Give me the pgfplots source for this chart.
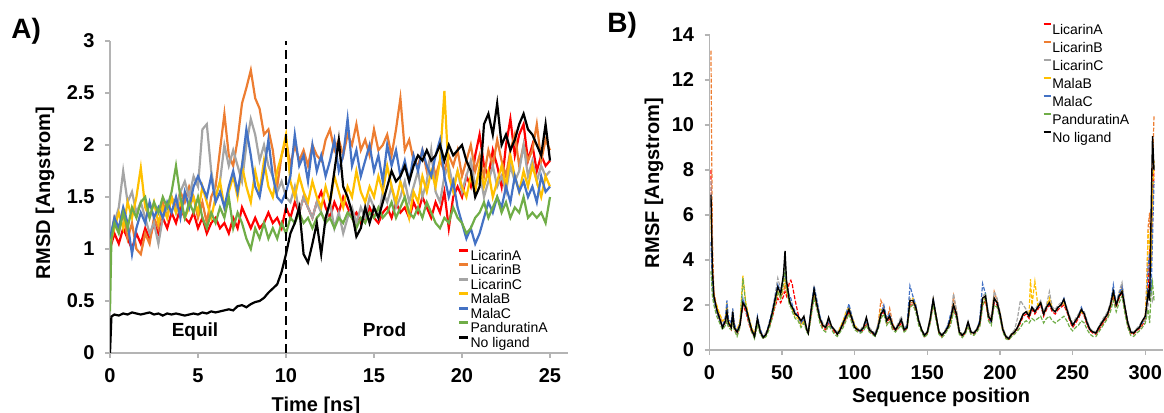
\documentclass[border=0pt]{standalone}
\usepackage{fontspec}
\setmainfont{Liberation Sans}
\usepackage{pgfplots}
\usepackage{pgfplotstable}
\pgfplotsset{compat=1.18}
\definecolor{cA}{HTML}{FF0000}
\definecolor{cB}{HTML}{ED7D31}
\definecolor{cC}{HTML}{A5A5A5}
\definecolor{cMB}{HTML}{FFC000}
\definecolor{cMC}{HTML}{4472C4}
\definecolor{cPA}{HTML}{70AD47}
\definecolor{axgray}{HTML}{B4B4B4}

\pgfplotstableread{
x LA LB LC MB MC PA NL
1 8.0 13.3 7.5 6.0 4.8 3.5 6.9
2 3.5 5.0 3.0 3.0 2.8 2.4 3.6
3 2.4 2.6 2.2 2.3 2.2 2.0 2.4
5 1.7 1.9 1.8 2.0 1.7 1.5 1.8
7 1.3 1.5 1.4 1.6 1.3 1.2 1.4
9 1.0 1.2 1.1 1.3 1.0 0.9 1.0
11 1.2 1.3 1.2 1.4 1.5 1.1 1.3
12 1.4 1.6 1.5 2.1 2.2 1.3 1.7
13 1.1 1.2 1.1 1.3 1.4 1.0 1.2
15 0.9 1.1 1.0 1.0 1.2 0.9 1.0
16 1.5 1.6 1.5 1.6 1.85 1.3 1.7
17 1.0 1.1 1.1 1.0 1.2 0.9 1.0
19 0.7 0.8 0.8 0.9 0.8 0.6 0.8
21 1.1 1.2 1.2 1.3 1.2 1.0 1.1
23 2.0 2.1 2.2 3.3 2.3 3.2 2.1
25 1.7 1.8 1.9 2.1 1.8 2.0 1.9
27 1.2 1.3 1.4 1.5 1.3 1.3 1.4
29 0.8 0.9 0.9 1.0 0.9 0.8 0.9
31 0.6 0.7 0.6 0.7 0.6 0.5 0.6
33 1.2 1.3 1.3 1.4 1.5 1.1 1.4
35 0.8 0.8 0.9 0.8 0.9 0.7 0.8
37 0.55 0.6 0.6 0.55 0.6 0.5 0.55
39 0.7 0.7 0.8 0.7 0.7 0.6 0.7
41 1.0 1.1 1.1 1.1 1.2 0.9 1.1
43 1.4 1.5 1.6 1.6 1.7 1.4 1.6
45 1.9 2.0 2.4 2.1 2.3 2.0 2.2
47 2.3 2.5 3.2 2.6 2.9 2.6 2.8
49 2.1 2.3 2.7 2.4 2.6 2.3 2.5
51 2.4 2.6 3.3 2.8 3.2 3.0 3.4
52 2.6 2.9 3.8 3.2 3.4 3.6 4.4
53 2.4 2.6 3.0 2.7 2.9 2.8 3.1
55 3.0 2.2 2.3 2.1 2.4 2.0 2.2
56 3.1 2.0 2.1 2.0 2.3 1.9 2.0
57 2.9 1.9 1.9 1.8 2.0 1.7 1.9
59 2.2 1.6 1.6 1.5 1.7 1.4 1.6
61 1.6 1.5 1.5 1.4 1.5 1.3 1.5
63 1.2 1.2 1.3 1.1 1.2 1.0 1.3
65 1.3 1.4 1.4 1.3 1.4 1.2 1.5
67 0.9 0.9 1.0 0.9 0.9 0.8 0.9
68 0.75 0.8 0.8 0.75 0.8 0.7 0.75
70 1.6 1.7 1.8 1.8 1.9 1.5 1.8
72 2.4 2.6 2.8 2.6 2.85 2.3 2.7
74 1.9 2.0 2.1 2.0 2.2 1.8 2.0
76 1.3 1.4 1.5 1.4 1.5 1.2 1.4
78 1.0 1.1 1.2 1.1 1.1 0.9 1.1
80 0.9 1.0 1.1 1.0 1.0 0.8 1.0
82 1.2 1.3 1.4 1.4 1.3 1.1 1.45
84 1.0 1.0 1.1 1.0 1.0 0.9 1.05
86 0.8 0.9 0.9 0.9 0.9 0.7 0.9
88 0.7 0.7 0.8 0.7 0.7 0.6 0.7
90 0.9 0.9 1.0 1.0 0.9 0.8 0.9
92 1.1 1.2 1.3 1.3 1.2 1.0 1.2
94 1.4 1.5 1.6 1.7 1.6 1.3 1.5
96 1.7 1.8 1.9 1.9 2.05 1.6 1.8
98 1.3 1.4 1.5 1.5 1.5 1.2 1.4
100 1.0 1.0 1.1 1.1 1.0 0.9 1.0
102 0.85 0.9 0.95 0.9 0.9 0.8 0.9
104 0.8 0.85 0.9 0.85 0.8 0.75 0.85
106 0.9 1.0 1.1 1.0 1.0 0.85 1.0
108 1.2 1.3 1.4 1.3 1.3 1.1 1.45
110 0.85 0.9 1.0 0.9 0.9 0.8 0.9
112 0.75 0.8 0.85 0.8 0.8 0.7 0.8
114 0.65 0.7 0.75 0.7 0.7 0.6 0.65
116 1.0 1.1 1.1 1.1 1.1 0.9 1.0
118 1.5 2.2 1.6 1.8 1.6 1.4 1.6
120 1.7 1.9 1.8 1.8 2.0 1.6 1.8
122 1.2 1.3 1.3 1.3 1.4 1.1 1.3
124 1.4 1.85 1.5 1.5 1.6 1.3 1.5
126 1.0 1.2 1.1 1.1 1.1 0.9 1.1
128 0.85 0.9 0.95 0.9 0.9 0.8 0.9
130 1.0 1.1 1.2 1.1 1.1 0.95 1.1
132 1.2 1.3 1.5 1.3 1.35 1.1 1.35
134 0.85 0.9 1.0 0.9 0.9 0.8 0.9
136 0.95 1.0 1.1 1.0 1.1 0.9 1.0
138 2.0 2.1 2.3 2.2 2.85 1.9 2.2
140 2.0 2.1 2.2 2.3 2.4 2.0 2.2
142 1.8 1.9 1.9 2.0 2.0 1.7 1.9
144 1.2 1.3 1.4 1.3 1.3 1.1 1.3
146 0.85 0.9 0.95 0.9 0.9 0.8 0.9
148 0.6 0.65 0.7 0.65 0.65 0.55 0.65
150 0.75 0.8 0.85 0.8 0.8 0.7 0.8
152 1.3 1.4 1.5 1.4 1.4 1.2 1.4
154 2.1 2.2 2.2 2.2 2.3 2.0 2.25
156 1.4 1.5 1.6 1.5 1.5 1.3 1.5
158 0.75 0.8 0.85 0.8 0.8 0.7 0.8
160 0.6 0.65 0.7 0.65 0.65 0.55 0.65
162 0.75 0.8 0.85 0.8 0.8 0.7 0.8
164 0.95 1.0 1.1 1.0 1.1 0.9 1.0
166 1.2 1.3 1.4 1.3 1.6 1.1 1.4
168 1.8 2.4 2.5 2.0 1.9 1.7 2.0
170 1.5 1.7 1.8 1.6 1.6 1.4 1.6
172 0.75 0.8 0.9 0.8 0.8 0.7 0.8
174 0.6 0.65 0.7 0.65 0.65 0.55 0.65
176 0.75 0.8 0.85 0.8 0.8 0.7 0.8
178 1.1 1.2 1.25 1.2 1.2 1.0 1.25
180 0.75 0.8 0.85 0.8 0.8 0.7 0.8
182 0.7 0.75 0.8 0.75 0.75 0.65 0.75
184 0.85 0.9 0.95 0.9 0.9 0.8 0.9
186 1.1 1.2 1.3 1.2 1.3 1.0 1.2
188 2.0 2.3 2.4 2.2 2.95 1.9 2.3
190 2.2 2.4 2.5 2.3 2.5 2.4 2.4
192 1.4 1.6 1.7 1.5 1.5 1.3 1.5
194 1.2 1.3 1.4 1.3 1.2 1.1 1.3
196 2.1 2.6 2.6 2.3 2.3 2.0 2.3
198 2.0 2.2 2.3 2.1 2.1 1.9 2.1
200 1.5 1.6 1.7 1.6 1.6 1.4 1.6
202 0.85 0.9 1.0 0.9 0.9 0.8 0.9
204 0.55 0.6 0.65 0.6 0.6 0.5 0.6
206 0.45 0.5 0.55 0.5 0.5 0.45 0.5
208 0.65 0.7 0.75 0.7 0.7 0.6 0.7
210 0.75 0.8 0.9 0.8 0.8 0.7 0.8
212 0.95 1.0 1.4 1.0 1.0 0.85 1.0
214 1.2 1.3 2.2 1.3 1.3 1.0 1.3
216 1.5 1.6 2.0 1.6 1.6 1.2 1.6
218 1.6 1.7 1.8 1.7 1.7 1.3 1.7
220 1.4 1.5 1.6 1.6 1.5 1.2 1.5
221 1.6 1.7 1.8 3.15 1.7 1.3 1.7
222 1.8 1.9 1.9 2.0 1.9 1.4 1.9
224 1.6 1.7 1.8 3.05 1.7 1.3 1.7
226 1.8 1.9 2.0 2.0 1.9 1.4 1.9
228 2.0 2.1 2.2 2.1 2.1 1.5 2.1
230 1.5 1.6 1.7 1.6 1.6 1.2 1.6
232 1.8 1.9 2.0 1.9 1.9 1.4 1.9
234 2.0 2.2 2.6 2.3 2.1 1.5 2.1
236 1.7 1.8 1.9 1.8 1.8 1.3 1.8
238 1.6 1.7 1.8 1.7 1.7 1.2 1.7
240 1.8 1.9 2.0 1.9 1.9 1.3 1.9
242 1.9 2.0 2.1 2.0 2.0 1.4 2.0
244 2.0 2.1 2.2 2.1 2.3 1.5 2.25
246 1.7 1.8 1.9 1.8 1.8 1.3 1.8
248 1.3 1.4 1.5 1.4 1.4 1.0 1.4
250 1.0 1.1 1.2 1.1 1.1 0.85 1.1
252 1.2 1.3 1.4 1.3 1.3 1.0 1.3
254 1.4 1.5 1.6 1.5 1.5 1.1 1.5
256 1.7 1.8 1.8 1.7 1.9 1.3 1.8
258 1.5 1.6 1.7 1.6 1.6 1.2 1.6
260 1.1 1.2 1.3 1.2 1.2 0.9 1.2
262 0.85 0.9 0.95 0.9 0.9 0.7 0.9
264 0.75 0.8 0.85 0.8 0.8 0.6 0.8
266 0.7 0.75 0.8 0.75 0.75 0.6 0.75
268 0.9 1.0 1.05 1.0 1.0 0.8 1.0
270 1.1 1.2 1.3 1.2 1.2 1.0 1.2
272 1.3 1.4 1.5 1.4 1.4 1.2 1.4
274 1.5 1.6 1.7 1.6 1.6 1.4 1.6
276 1.9 2.0 2.1 2.0 2.0 1.7 2.0
278 2.4 2.6 2.7 2.5 2.9 2.2 2.6
280 1.9 2.0 2.1 2.0 2.0 1.7 2.0
282 2.3 2.4 2.6 2.4 2.5 2.1 2.4
284 2.6 2.8 3.0 2.7 2.8 2.4 2.6
286 1.8 1.9 2.0 1.9 1.9 1.6 1.9
288 1.1 1.2 1.3 1.2 1.2 1.0 1.2
290 0.75 0.8 0.85 0.8 0.8 0.65 0.8
292 0.7 0.75 0.8 0.75 0.75 0.6 0.75
294 0.85 0.9 0.95 0.9 0.9 0.75 0.9
296 0.95 1.0 1.1 1.0 1.0 0.85 1.0
298 1.1 1.2 1.3 1.2 1.2 1.0 1.3
300 1.4 1.5 1.3 1.5 1.5 1.2 1.5
301 2.0 3.0 1.6 2.5 2.0 1.5 2.0
302 2.5 5.5 2.0 5.3 3.8 1.8 2.6
303 4.5 6.1 2.5 4.6 4.3 1.2 2.2
304 3.5 4.0 3.0 3.5 2.5 2.5 6.0
305 6.0 8.0 2.2 6.5 5.0 3.0 9.5
306 8.0 10.4 2.4 8.4 7.5 2.2 8.0
}\rmsf

\pgfplotsset{
  common/.style={
    scale only axis,
    axis x line*=bottom, axis y line*=left,
    axis line style={draw=axgray, line width=0.7pt, -},
    tick align=outside, major tick length=2.5pt,
    every tick/.style={axgray, line width=0.7pt},
    ticklabel style={font=\bfseries\fontsize{10}{12}\selectfont},
    /pgf/number format/assume math mode=true,
    label style={font=\bfseries\fontsize{10}{12}\selectfont},
    xticklabel style={anchor=north, inner sep=0pt, yshift=-5pt},
    yticklabel style={anchor=east, inner sep=0pt, xshift=-5pt},
    legend cell align=left,
  }
}

\begin{document}
\begin{tikzpicture}
\useasboundingbox (0,0) rectangle (582pt,206.5pt);

\node[anchor=base west, inner sep=0pt, font=\bfseries\fontsize{14}{16}\selectfont] at (5.5pt,187pt) {A)};
\node[anchor=base west, inner sep=0pt, font=\bfseries\fontsize{14}{16}\selectfont] at (303.5pt,190pt) {B)};

\begin{axis}[common,
  at={(55pt,30pt)}, anchor=south west,
  width=228.8pt, height=156pt,
  xmin=0, xmax=26, ymin=0, ymax=3,
  xtick={0,5,10,15,20,25},
  ytick={0,0.5,1,1.5,2,2.5,3},
  xlabel={Time [ns]},
  xlabel style={at={(axis description cs:0.45,-0.186)}, anchor=base, inner sep=0pt},
  ylabel={RMSD [Angstrom]},
  ylabel style={at={(axis description cs:-0.131,0.513)}, anchor=base, inner sep=0pt},
  legend style={at={(0.7605,0.337)}, anchor=north west, draw=none, fill=none,
    font=\fontsize{7}{8}\selectfont, inner sep=0pt, outer sep=0pt, row sep=0pt,
    nodes={inner sep=0pt, text height=6.1pt, text depth=1.15pt},
    /tikz/every odd column/.style={column sep=0.4pt}},
  legend image code/.code={\draw[#1, line width=1.4pt] (0pt,2.5pt) -- (4.5pt,2.5pt);},
]
\addplot[cA, line width=1.1pt] coordinates {(0,1.0)(0.25,1.15)(0.5,1.05)(0.75,1.2)(1,1.1)(1.25,1.0)(1.5,1.15)(1.75,1.05)(2,1.2)(2.25,1.1)(2.5,1.25)(2.75,1.15)(3,1.3)(3.25,1.2)(3.5,1.35)(3.75,1.25)(4,1.4)(4.25,1.3)(4.5,1.25)(4.75,1.35)(5,1.2)(5.25,1.3)(5.5,1.15)(5.75,1.25)(6,1.3)(6.25,1.2)(6.5,1.25)(6.75,1.15)(7,1.3)(7.25,1.2)(7.5,1.4)(7.75,1.3)(8,1.2)(8.25,1.3)(8.5,1.2)(8.75,1.25)(9,1.35)(9.25,1.25)(9.5,1.3)(9.75,1.2)(10,1.4)(10.25,1.3)(10.5,1.45)(10.75,1.35)(11,1.5)(11.25,1.4)(11.5,1.3)(11.75,1.45)(12,1.55)(12.25,1.4)(12.5,1.3)(12.75,1.45)(13,1.35)(13.25,1.5)(13.5,1.4)(13.75,1.3)(14,1.35)(14.25,1.25)(14.5,1.3)(14.75,1.4)(15,1.3)(15.25,1.25)(15.5,1.35)(15.75,1.4)(16,1.3)(16.25,1.45)(16.5,1.35)(16.75,1.4)(17,1.3)(17.25,1.45)(17.5,1.35)(17.75,1.5)(18,1.4)(18.25,1.3)(18.5,1.45)(18.75,1.35)(19,1.55)(19.25,1.2)(19.5,1.5)(19.75,1.6)(20,1.5)(20.25,1.7)(20.5,1.6)(20.75,1.9)(21,2.1)(21.25,1.8)(21.5,1.7)(21.75,1.95)(22,1.8)(22.25,1.6)(22.5,2.0)(22.75,2.25)(23,1.9)(23.25,2.1)(23.5,2.2)(23.75,1.85)(24,2.0)(24.25,1.75)(24.5,1.9)(24.75,1.8)(25,1.85)};
\addplot[cB, line width=1.1pt] coordinates {(0,1.05)(0.25,1.3)(0.5,1.2)(0.75,1.35)(1,1.1)(1.25,1.25)(1.5,1.0)(1.75,0.95)(2,1.15)(2.25,1.05)(2.5,1.3)(2.75,1.2)(3,1.45)(3.25,1.3)(3.5,1.5)(3.75,1.4)(4,1.55)(4.25,1.45)(4.5,1.6)(4.75,1.5)(5,1.3)(5.25,1.45)(5.5,1.25)(5.75,1.5)(6,1.6)(6.25,1.95)(6.5,2.3)(6.75,1.9)(7,1.8)(7.25,2.05)(7.5,2.4)(7.75,2.55)(8,2.72)(8.25,2.45)(8.5,2.35)(8.75,2.1)(9,2.15)(9.25,1.95)(9.5,1.6)(9.75,1.9)(10,2.05)(10.25,1.8)(10.5,2.0)(10.75,1.85)(11,1.95)(11.25,1.8)(11.5,2.0)(11.75,1.9)(12,1.85)(12.25,2.05)(12.5,2.15)(12.75,1.95)(13,2.05)(13.25,1.9)(13.5,2.1)(13.75,2.0)(14,2.2)(14.25,1.95)(14.5,2.05)(14.75,1.9)(15,2.15)(15.25,1.95)(15.5,2.0)(15.75,2.1)(16,1.9)(16.25,2.15)(16.5,2.45)(16.75,1.95)(17,2.05)(17.25,1.85)(17.5,1.8)(17.75,1.95)(18,1.75)(18.25,1.9)(18.5,1.7)(18.75,1.85)(19,1.75)(19.25,1.9)(19.5,1.8)(19.75,1.95)(20,1.7)(20.25,1.85)(20.5,2.0)(20.75,1.75)(21,1.9)(21.25,1.7)(21.5,1.95)(21.75,1.8)(22,2.05)(22.25,1.85)(22.5,1.7)(22.75,1.95)(23,2.1)(23.25,1.8)(23.5,2.0)(23.75,1.85)(24,1.95)(24.25,2.2)(24.5,1.85)(24.75,2.05)(25,1.95)};
\addplot[cC, line width=1.1pt] coordinates {(0,1.0)(0.25,1.25)(0.5,1.4)(0.75,1.75)(1,1.45)(1.25,1.55)(1.5,1.35)(1.75,1.45)(2,1.3)(2.25,1.15)(2.5,1.25)(2.75,1.05)(3,1.3)(3.25,1.4)(3.5,1.5)(3.75,1.35)(4,1.55)(4.25,1.65)(4.5,1.5)(4.75,1.7)(5,1.6)(5.25,2.15)(5.5,2.2)(5.75,1.75)(6,1.5)(6.25,1.65)(6.5,2.0)(6.75,1.8)(7,1.95)(7.25,1.8)(7.5,1.65)(7.75,2.0)(8,2.25)(8.25,2.1)(8.5,1.85)(8.75,2.0)(9,1.8)(9.25,1.7)(9.5,1.55)(9.75,1.65)(10,1.5)(10.25,1.45)(10.5,1.6)(10.75,1.35)(11,1.5)(11.25,1.4)(11.5,1.3)(11.75,1.45)(12,1.35)(12.25,1.25)(12.5,1.45)(12.75,1.2)(13,1.35)(13.25,1.15)(13.5,1.3)(13.75,1.4)(14,1.25)(14.25,1.4)(14.5,1.3)(14.75,1.5)(15,1.4)(15.25,1.3)(15.5,1.55)(15.75,1.45)(16,1.6)(16.25,1.4)(16.5,1.5)(16.75,1.65)(17,1.45)(17.25,1.6)(17.5,1.75)(17.75,1.5)(18,1.65)(18.25,1.95)(18.5,1.55)(18.75,1.45)(19,1.7)(19.25,1.8)(19.5,1.6)(19.75,1.75)(20,1.55)(20.25,1.7)(20.5,1.85)(20.75,1.6)(21,1.75)(21.25,1.5)(21.5,1.65)(21.75,1.8)(22,1.6)(22.25,1.7)(22.5,1.55)(22.75,1.8)(23,1.65)(23.25,1.75)(23.5,2.0)(23.75,1.7)(24,1.85)(24.25,1.65)(24.5,1.8)(24.75,1.7)(25,1.75)};
\addplot[cMB, line width=1.1pt] coordinates {(0,1.05)(0.25,1.2)(0.5,1.35)(0.75,1.2)(1,1.45)(1.25,1.3)(1.5,1.5)(1.75,1.78)(2,1.4)(2.25,1.3)(2.5,1.45)(2.75,1.25)(3,1.4)(3.25,1.3)(3.5,1.5)(3.75,1.35)(4,1.45)(4.25,1.3)(4.5,1.4)(4.75,1.5)(5,1.35)(5.25,1.6)(5.5,1.45)(5.75,1.3)(6,1.5)(6.25,1.65)(6.5,1.4)(6.75,1.55)(7,1.7)(7.25,1.5)(7.5,1.8)(7.75,1.6)(8,1.45)(8.25,1.75)(8.5,1.55)(8.75,1.85)(9,1.6)(9.25,1.5)(9.5,1.75)(9.75,1.9)(10,2.1)(10.25,1.65)(10.5,1.5)(10.75,1.7)(11,1.55)(11.25,1.45)(11.5,1.65)(11.75,1.5)(12,1.4)(12.25,1.6)(12.5,1.45)(12.75,1.7)(13,1.55)(13.25,1.4)(13.5,1.6)(13.75,1.5)(14,1.75)(14.25,1.55)(14.5,1.45)(14.75,1.6)(15,1.5)(15.25,1.7)(15.5,1.55)(15.75,1.8)(16,1.6)(16.25,1.45)(16.5,1.65)(16.75,1.5)(17,1.3)(17.25,1.55)(17.5,1.45)(17.75,1.7)(18,1.55)(18.25,1.75)(18.5,1.6)(18.75,1.85)(19,2.52)(19.25,1.7)(19.5,1.55)(19.75,1.75)(20,1.6)(20.25,1.5)(20.5,1.7)(20.75,1.55)(21,1.8)(21.25,1.6)(21.5,1.75)(21.75,1.5)(22,1.65)(22.25,1.8)(22.5,1.6)(22.75,1.9)(23,1.7)(23.25,1.55)(23.5,1.75)(23.75,1.6)(24,1.8)(24.25,1.65)(24.5,1.5)(24.75,1.7)(25,1.6)};
\addplot[cMC, line width=1.1pt] coordinates {(0,1.1)(0.25,1.3)(0.5,1.2)(0.75,1.4)(1,1.25)(1.25,0.95)(1.5,1.2)(1.75,1.35)(2,1.25)(2.25,1.45)(2.5,1.3)(2.75,1.4)(3,1.3)(3.25,1.45)(3.5,1.35)(3.75,1.5)(4,1.3)(4.25,1.55)(4.5,1.4)(4.75,1.6)(5,1.7)(5.25,1.6)(5.5,1.5)(5.75,1.7)(6,1.45)(6.25,1.55)(6.5,1.4)(6.75,1.6)(7,1.75)(7.25,1.55)(7.5,1.8)(7.75,2.15)(8,1.9)(8.25,1.6)(8.5,1.5)(8.75,1.75)(9,2.05)(9.25,1.7)(9.5,1.5)(9.75,1.45)(10,1.55)(10.25,1.7)(10.5,2.1)(10.75,1.8)(11,1.9)(11.25,1.65)(11.5,2.0)(11.75,1.75)(12,1.9)(12.25,1.7)(12.5,1.85)(12.75,2.05)(13,1.75)(13.25,1.9)(13.5,2.25)(13.75,1.8)(14,1.95)(14.25,1.7)(14.5,1.85)(14.75,2.0)(15,1.75)(15.25,1.9)(15.5,1.65)(15.75,2.0)(16,1.8)(16.25,1.95)(16.5,1.7)(16.75,1.85)(17,1.65)(17.25,1.9)(17.5,1.75)(17.75,1.95)(18,1.8)(18.25,1.7)(18.5,1.9)(18.75,2.05)(19,1.7)(19.25,1.5)(19.5,1.65)(19.75,1.4)(20,1.25)(20.25,1.1)(20.5,1.2)(20.75,1.05)(21,1.15)(21.25,1.3)(21.5,1.45)(21.75,1.35)(22,1.5)(22.25,1.4)(22.5,1.6)(22.75,1.45)(23,1.7)(23.25,1.55)(23.5,1.65)(23.75,1.5)(24,1.6)(24.25,1.45)(24.5,1.7)(24.75,1.55)(25,1.6)};
\addplot[cPA, line width=1.1pt] coordinates {(0,0.4)(0.08,1.1)(0.25,1.25)(0.5,1.15)(0.75,1.35)(1,1.2)(1.25,1.4)(1.5,1.3)(1.75,1.45)(2,1.5)(2.25,1.3)(2.5,1.45)(2.75,1.35)(3,1.5)(3.25,1.4)(3.5,1.55)(3.75,1.8)(4,1.5)(4.25,1.3)(4.5,1.45)(4.75,1.35)(5,1.5)(5.25,1.3)(5.5,1.2)(5.75,1.35)(6,1.25)(6.25,1.4)(6.5,1.3)(6.75,1.5)(7,1.2)(7.25,1.35)(7.5,1.25)(7.75,1.1)(8,1.0)(8.25,1.2)(8.5,1.1)(8.75,1.25)(9,1.1)(9.25,1.2)(9.5,1.1)(9.75,1.25)(10,1.15)(10.25,1.3)(10.5,1.25)(10.75,1.35)(11,1.25)(11.25,1.3)(11.5,1.2)(11.75,1.3)(12,1.35)(12.25,1.25)(12.5,1.3)(12.75,1.2)(13,1.3)(13.25,1.25)(13.5,1.35)(13.75,1.3)(14,1.2)(14.25,1.3)(14.5,1.25)(14.75,1.35)(15,1.3)(15.25,1.4)(15.5,1.3)(15.75,1.35)(16,1.45)(16.25,1.3)(16.5,1.4)(16.75,1.5)(17,1.35)(17.25,1.3)(17.5,1.4)(17.75,1.3)(18,1.45)(18.25,1.35)(18.5,1.25)(18.75,1.2)(19,1.3)(19.25,1.25)(19.5,1.4)(19.75,1.3)(20,1.25)(20.25,1.15)(20.5,1.2)(20.75,1.3)(21,1.35)(21.25,1.45)(21.5,1.3)(21.75,1.4)(22,1.5)(22.25,1.35)(22.5,1.45)(22.75,1.3)(23,1.4)(23.25,1.35)(23.5,1.5)(23.75,1.3)(24,1.35)(24.25,1.3)(24.5,1.35)(24.75,1.25)(25,1.5)};
\addplot[black, line width=1.1pt] coordinates {(0,0)(0.08,0.35)(0.25,0.37)(0.5,0.36)(0.75,0.38)(1,0.37)(1.25,0.39)(1.5,0.38)(1.75,0.37)(2,0.38)(2.25,0.39)(2.5,0.37)(2.75,0.38)(3,0.36)(3.25,0.38)(3.5,0.37)(3.75,0.38)(4,0.37)(4.25,0.36)(4.5,0.37)(4.75,0.38)(5,0.37)(5.25,0.39)(5.5,0.38)(5.75,0.4)(6,0.39)(6.25,0.4)(6.5,0.41)(6.75,0.42)(7,0.41)(7.25,0.45)(7.5,0.46)(7.75,0.44)(8,0.47)(8.25,0.49)(8.5,0.5)(8.75,0.53)(9,0.58)(9.25,0.62)(9.5,0.66)(9.75,0.78)(10,0.95)(10.25,1.15)(10.5,1.25)(10.75,1.4)(11,0.95)(11.25,0.87)(11.5,1.05)(11.75,1.25)(12,0.95)(12.25,1.3)(12.5,1.45)(12.75,1.75)(13,2.05)(13.25,1.6)(13.5,1.5)(13.75,1.35)(14,1.12)(14.25,1.2)(14.5,1.4)(14.75,1.25)(15,1.4)(15.25,1.3)(15.5,1.45)(15.75,1.6)(16,1.75)(16.25,1.65)(16.5,1.7)(16.75,1.8)(17,1.65)(17.25,1.8)(17.5,1.9)(17.75,1.85)(18,1.95)(18.25,1.85)(18.5,1.9)(18.75,2.0)(19,1.85)(19.25,2.0)(19.5,1.9)(19.75,1.95)(20,2.0)(20.25,1.85)(20.5,1.75)(20.75,1.5)(21,1.6)(21.25,2.2)(21.5,2.3)(21.75,2.1)(22,2.4)(22.25,2.0)(22.5,2.1)(22.75,1.95)(23,2.05)(23.25,2.2)(23.5,2.3)(23.75,2.15)(24,2.1)(24.25,2.0)(24.5,1.9)(24.75,2.2)(25,1.85)};
\addplot[forget plot, black, line width=1pt, dash pattern=on 4.5pt off 2.5pt] coordinates {(10,0) (10,3)};
\legend{LicarinA,LicarinB,LicarinC,MalaB,MalaC,PanduratinA,No ligand}
\node[anchor=base, inner sep=0pt, font=\bfseries\fontsize{9.5}{11}\selectfont] at (axis cs:4.83,0.154) {Equil};
\node[anchor=base, inner sep=0pt, font=\bfseries\fontsize{9.5}{11}\selectfont] at (axis cs:15.6,0.154) {Prod};
\end{axis}

\begin{axis}[common,
  at={(354.75pt,31.5pt)}, anchor=south west,
  width=226.6pt, height=157.5pt,
  xmin=0, xmax=312, ymin=0, ymax=14,
  xtick={0,50,100,150,200,250,300},
  ytick={0,2,4,6,8,10,12,14},
  xlabel={Sequence position},
  xlabel style={at={(axis description cs:0.511,-0.168)}, anchor=base, inner sep=0pt},
  ylabel={RMSF [Angstrom]},
  ylabel style={at={(axis description cs:-0.111,0.53)}, anchor=base, inner sep=0pt},
  legend style={at={(0.736,1.0476)}, anchor=north west, draw=none, fill=none,
    font=\fontsize{7}{8}\selectfont, inner sep=0pt, outer sep=0pt, row sep=0pt,
    nodes={inner sep=0pt, text height=7pt, text depth=2pt},
    /tikz/every odd column/.style={column sep=0.5pt}},
  legend image code/.code={\draw[#1, solid, line width=0.6pt] (0pt,2.5pt) -- (3.5pt,2.5pt);},
]
\addplot[cA, line width=0.6pt, dash pattern=on 2pt off 0.8pt] table[x=x, y=LA] {\rmsf};
\addplot[cB, line width=0.6pt, dash pattern=on 2pt off 0.8pt] table[x=x, y=LB] {\rmsf};
\addplot[cC, line width=0.6pt, dash pattern=on 2pt off 0.8pt] table[x=x, y=LC] {\rmsf};
\addplot[cMB, line width=0.6pt, dash pattern=on 2pt off 0.8pt] table[x=x, y=MB] {\rmsf};
\addplot[cMC, line width=0.6pt, dash pattern=on 2pt off 0.8pt] table[x=x, y=MC] {\rmsf};
\addplot[cPA, line width=0.6pt, dash pattern=on 2pt off 0.8pt] table[x=x, y=PA] {\rmsf};
\addplot[black, line width=0.7pt] table[x=x, y=NL] {\rmsf};
\legend{LicarinA,LicarinB,LicarinC,MalaB,MalaC,PanduratinA,No ligand}
\end{axis}
\end{tikzpicture}
\end{document}
